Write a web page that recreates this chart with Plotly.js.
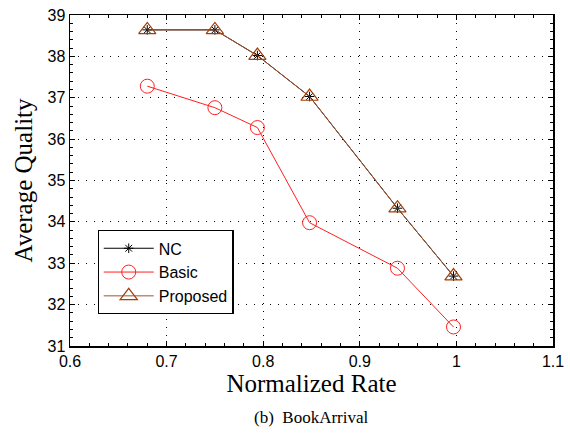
<!DOCTYPE html>
<html>
<head>
<meta charset="utf-8">
<script src="https://cdn.plot.ly/plotly-3.0.1.min.js"></script>
<style>html,body{margin:0;padding:0;background:#fff;}#chart{width:570px;height:433px;}</style>
</head>
<body>
<div id="chart"></div>
<script>
const rates = [0.68, 0.75, 0.794, 0.848, 0.939, 0.997];
const ncQuality = [38.64, 38.64, 38.02, 37.03, 34.33, 32.69];
const basicQuality = [37.28, 36.76, 36.28, 33.98, 32.88, 31.46];
const proposedQuality = [38.64, 38.64, 38.02, 37.03, 34.33, 32.69];
const seriesNames = ['NC', 'Basic', 'Proposed'];
const xTicks = [0.6, 0.7, 0.8, 0.9, 1, 1.1];
const yTicks = [31, 32, 33, 34, 35, 36, 37, 38, 39];

const traces = [
  {x: rates, y: ncQuality, name: seriesNames[0], mode: 'lines+markers',
   line: {color: '#000000', width: 1},
   marker: {symbol: 'asterisk-open', size: 8, color: '#000000', line: {color: '#000000', width: 1}}},
  {x: rates, y: basicQuality, name: seriesNames[1], mode: 'lines+markers',
   line: {color: '#ff2020', width: 1},
   marker: {symbol: 'circle-open', size: 14, color: '#ff2020', line: {color: '#ff2020', width: 1}}},
  {x: rates, y: proposedQuality, name: seriesNames[2], mode: 'lines+markers',
   line: {color: '#a0522d', width: 1},
   marker: {symbol: 'triangle-up-open', size: 15, color: '#a0400a', line: {color: '#a0400a', width: 1.2}}}
];

const axisCommon = {
  showline: true, mirror: 'ticks', linecolor: '#000', linewidth: 1.5,
  ticks: 'inside', ticklen: 5, tickcolor: '#000', tickwidth: 1,
  showgrid: true, gridcolor: '#000', griddash: '1px,7px', gridwidth: 1,
  zeroline: false,
  tickfont: {family: 'Liberation Sans, Arial, sans-serif', size: 16, color: '#000'}
};

const layout = {
  width: 570, height: 433,
  margin: {l: 70, r: 17, t: 15, b: 87},
  paper_bgcolor: '#fff', plot_bgcolor: '#fff',
  showlegend: true,
  xaxis: Object.assign({}, axisCommon, {
    range: [0.6, 1.1], tickvals: xTicks, ticktext: xTicks.map(String),
    minor: {dtick: 0.02, ticks: 'inside', ticklen: 3, tickcolor: '#000', showgrid: false},
    title: {text: 'Normalized Rate', font: {family: 'Liberation Serif, Times New Roman, serif', size: 25, color: '#000'}, standoff: 6}
  }),
  yaxis: Object.assign({}, axisCommon, {
    range: [31, 39], tickvals: yTicks, ticktext: yTicks.map(String),
    minor: {dtick: 0.2, ticks: 'inside', ticklen: 3, tickcolor: '#000', showgrid: false},
    title: {text: 'Average Quality', font: {family: 'Liberation Serif, Times New Roman, serif', size: 25, color: '#000'}, standoff: 8}
  }),
  legend: {
    x: 0.057, y: 0.35, xanchor: 'left', yanchor: 'top',
    bgcolor: '#fff', bordercolor: '#000', borderwidth: 1.2,
    font: {family: 'Liberation Sans, Arial, sans-serif', size: 16, color: '#000'},
    itemwidth: 50, tracegroupgap: 0, entrywidth: 150, entrywidthmode: 'pixels'
  },
  annotations: [{
    text: '(b)  BookArrival', xref: 'paper', yref: 'paper', x: 0.5, y: -0.2175,
    xanchor: 'center', yanchor: 'middle', showarrow: false,
    font: {family: 'Liberation Serif, Times New Roman, serif', size: 17, color: '#000'}
  }]
};

Plotly.newPlot('chart', traces, layout, {displayModeBar: false, staticPlot: true});
</script>
</body>
</html>
